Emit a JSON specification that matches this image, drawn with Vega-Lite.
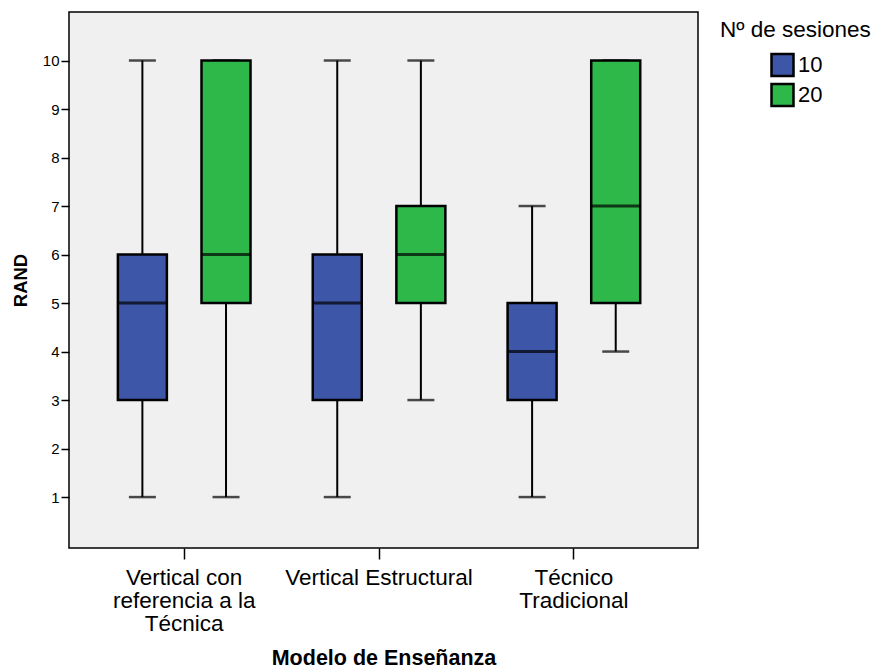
{
  "$schema": "https://vega.github.io/schema/vega-lite/v6.json",
  "width": 629,
  "height": 536,
  "autosize": {"type": "none"},
  "padding": {"left": 69, "top": 12, "right": 179, "bottom": 122},
  "background": "white",
  "config": {
    "font": "Liberation Sans",
    "view": {"fill": "#f0f0f0", "stroke": "black", "strokeWidth": 1.5},
    "axis": {"grid": false, "domain": false, "tickColor": "black", "labelColor": "black", "titleColor": "black", "tickWidth": 1.5},
    "axisY": {"labelFontSize": 15, "tickSize": 8, "labelPadding": 2, "titleFontSize": 18.5, "titleFontWeight": "bold", "titlePadding": 12}
  },
  "data": {
    "values": [
      {"modelo": "Vertical con referencia a la Técnica", "sesiones": "10", "min": 1, "q1": 3, "median": 5, "q3": 6, "max": 10},
      {"modelo": "Vertical con referencia a la Técnica", "sesiones": "20", "min": 1, "q1": 5, "median": 6, "q3": 10, "max": 10},
      {"modelo": "Vertical Estructural", "sesiones": "10", "min": 1, "q1": 3, "median": 5, "q3": 6, "max": 10},
      {"modelo": "Vertical Estructural", "sesiones": "20", "min": 3, "q1": 5, "median": 6, "q3": 7, "max": 10},
      {"modelo": "Técnico Tradicional", "sesiones": "10", "min": 1, "q1": 3, "median": 4, "q3": 5, "max": 7},
      {"modelo": "Técnico Tradicional", "sesiones": "20", "min": 4, "q1": 5, "median": 7, "q3": 10, "max": 10}
    ]
  },
  "encoding": {
    "x": {
      "field": "modelo", "type": "nominal", "sort": null,
      "scale": {"paddingInner": 0, "paddingOuter": 0.114, "align": 0.4},
      "axis": {
        "title": "Modelo de Enseñanza", "titleFontSize": 21.5, "titleFontWeight": "bold", "titlePadding": 13,
        "labelAngle": 0, "labelFontSize": 22.5, "labelLimit": 300, "labelLineHeight": 23,
        "labelPadding": 7, "tickSize": 11,
        "labelExpr": "datum.value == 'Vertical con referencia a la Técnica' ? ['Vertical con', 'referencia a la', 'Técnica'] : datum.value == 'Técnico Tradicional' ? ['Técnico', 'Tradicional'] : datum.value"
      }
    },
    "xOffset": {"field": "sesiones", "type": "nominal", "scale": {"paddingInner": 0.414, "paddingOuter": 0.372}}
  },
  "layer": [
    {
      "mark": {"type": "rule", "color": "black", "strokeWidth": 2},
      "encoding": {
        "y": {"field": "min", "type": "quantitative",
          "scale": {"domain": [-0.05, 11], "nice": false, "zero": false},
          "axis": {"title": "RAND", "values": [1, 2, 3, 4, 5, 6, 7, 8, 9, 10]}},
        "y2": {"field": "max"}
      }
    },
    {
      "mark": {"type": "tick", "color": "black", "size": 27, "thickness": 2.5, "orient": "horizontal"},
      "encoding": {"y": {"field": "min", "type": "quantitative"}}
    },
    {
      "mark": {"type": "tick", "color": "black", "size": 27, "thickness": 2.5, "orient": "horizontal"},
      "encoding": {"y": {"field": "max", "type": "quantitative"}}
    },
    {
      "mark": {"type": "bar", "stroke": "black", "strokeWidth": 2.5},
      "encoding": {
        "y": {"field": "q1", "type": "quantitative"},
        "y2": {"field": "q3"},
        "fill": {
          "field": "sesiones", "type": "nominal",
          "scale": {"domain": ["10", "20"], "range": ["#3d56a8", "#2fb84a"]},
          "legend": {
            "title": "Nº de sesiones", "orient": "none", "legendX": 651, "legendY": 7,
            "titleFontSize": 22.5, "titleFontWeight": "normal", "titleColor": "black", "titlePadding": 11,
            "labelFontSize": 22, "labelColor": "black", "labelOffset": 3,
            "symbolType": "square", "symbolSize": 484, "symbolStrokeColor": "black", "symbolStrokeWidth": 2.5,
            "symbolOffset": 50, "rowPadding": -3, "padding": 0
          }
        }
      }
    },
    {
      "mark": {"type": "tick", "color": "black", "size": 49, "thickness": 3, "orient": "horizontal"},
      "encoding": {"y": {"field": "median", "type": "quantitative"}}
    }
  ]
}
